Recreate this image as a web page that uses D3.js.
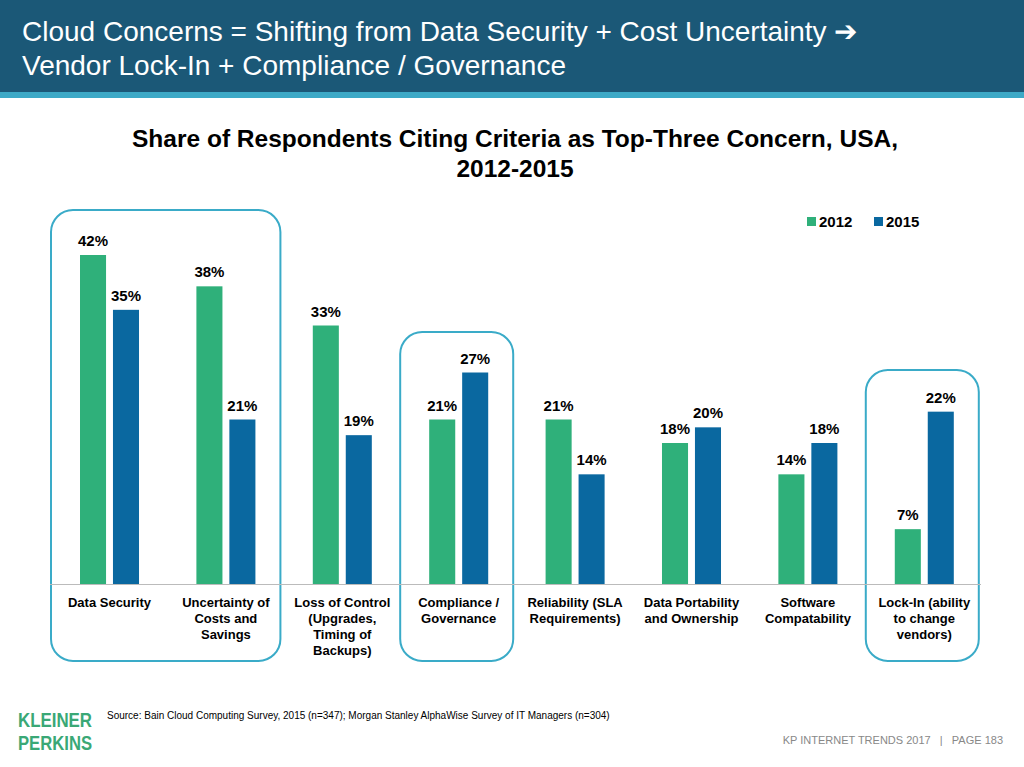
<!DOCTYPE html>
<html><head><meta charset="utf-8">
<script src="https://cdn.jsdelivr.net/npm/d3@7"></script>
<style>body{margin:0;background:#fff;font-family:Arial,"Liberation Sans",sans-serif}</style>
</head><body>
<script>
const categories=[["Data Security"],["Uncertainty of","Costs and","Savings"],["Loss of Control","(Upgrades,","Timing of","Backups)"],["Compliance /","Governance"],["Reliability (SLA","Requirements)"],["Data Portability","and Ownership"],["Software","Compatability"],["Lock-In (ability","to change","vendors)"]];
const v2012=[42,38,33,21,21,18,14,7];
const v2015=[35,21,19,27,14,20,18,22];
const years=["2012","2015"];
const colors=["#2fb07a","#0a68a0"];
const W=1024,H=767;
const svg=d3.select("body").append("svg").attr("width",W).attr("height",H);
svg.append("rect").attr("width",W).attr("height",92).attr("fill","#1b5877");
svg.append("rect").attr("y",92).attr("width",W).attr("height",6).attr("fill","#3da9c6");
svg.append("text").attr("x",22).attr("y",41).attr("fill","#fff").attr("font-size",28).text("Cloud Concerns = Shifting from Data Security + Cost Uncertainty \u2794");
svg.append("text").attr("x",22).attr("y",75).attr("fill","#fff").attr("font-size",28).text("Vendor Lock-In + Compliance / Governance");
svg.append("text").attr("x",515).attr("y",147).attr("text-anchor","middle").attr("font-weight","bold").attr("font-size",24.5).text("Share of Respondents Citing Criteria as Top-Three Concern, USA,");
svg.append("text").attr("x",515).attr("y",177).attr("text-anchor","middle").attr("font-weight","bold").attr("font-size",24.5).text("2012-2015");
const x=d3.scaleBand().domain(d3.range(8)).range([45,988.8]).paddingInner(0.493).paddingOuter(0.3007);
const x0=d3.scaleBand().domain(years).range([0,x.bandwidth()]).paddingInner(0.21);
const y=d3.scaleLinear().domain([0,42]).range([584,255]);
[[0,1,210],[3,3,332],[7,7,370]].forEach(([a,b,t])=>{
 const l=x(a)-29, r=x(b)+x.bandwidth()+25;
 svg.append("rect").attr("x",l).attr("y",t).attr("width",r-l).attr("height",661-t).attr("rx",22).attr("fill","none").attr("stroke","#3aabc8").attr("stroke-width",2);
});
[v2012,v2015].forEach((vals,k)=>{
 const g=svg.append("g");
 g.selectAll("rect").data(vals).join("rect").attr("x",(d,i)=>x(i)+x0(years[k])).attr("width",x0.bandwidth()).attr("y",d=>y(d)).attr("height",d=>y(0)-y(d)).attr("fill",colors[k]);
 g.selectAll("text").data(vals).join("text").attr("x",(d,i)=>x(i)+x0(years[k])+x0.bandwidth()/2).attr("y",d=>y(d)-9).attr("text-anchor","middle").attr("font-weight","bold").attr("font-size",15).text(d=>d+"%");
});
svg.append("line").attr("x1",50).attr("x2",981).attr("y1",584.5).attr("y2",584.5).attr("stroke","#bbb");
categories.forEach((c,i)=>{
 const t=svg.append("text").attr("x",x(i)+x.bandwidth()/2).attr("y",607).attr("text-anchor","middle").attr("font-weight","bold").attr("font-size",13);
 c.forEach((s,j)=>t.append("tspan").attr("x",x(i)+x.bandwidth()/2).attr("dy",j?16:0).text(s));
});
years.forEach((yr,k)=>{
 const lx=[807,874][k];
 svg.append("rect").attr("x",lx).attr("y",217).attr("width",9).attr("height",9).attr("fill",colors[k]);
 svg.append("text").attr("x",lx+12).attr("y",227).attr("font-weight","bold").attr("font-size",15).text(yr);
});
svg.append("text").attr("x",107).attr("y",719).attr("font-size",10).text("Source: Bain Cloud Computing Survey, 2015 (n=347); Morgan Stanley AlphaWise Survey of IT Managers (n=304)");
svg.append("text").attr("x",18).attr("y",727).attr("font-size",20).attr("font-weight","bold").attr("fill","#3aa876").attr("textLength",74).attr("lengthAdjust","spacingAndGlyphs").text("KLEINER");
svg.append("text").attr("x",18).attr("y",750).attr("font-size",20).attr("font-weight","bold").attr("fill","#3aa876").attr("textLength",74).attr("lengthAdjust","spacingAndGlyphs").text("PERKINS");
svg.append("text").attr("x",1003).attr("y",744).attr("text-anchor","end").attr("font-size",11).attr("fill","#888").text("KP INTERNET TRENDS 2017\u00a0\u00a0\u00a0|\u00a0\u00a0\u00a0PAGE 183");
</script>
</body></html>
